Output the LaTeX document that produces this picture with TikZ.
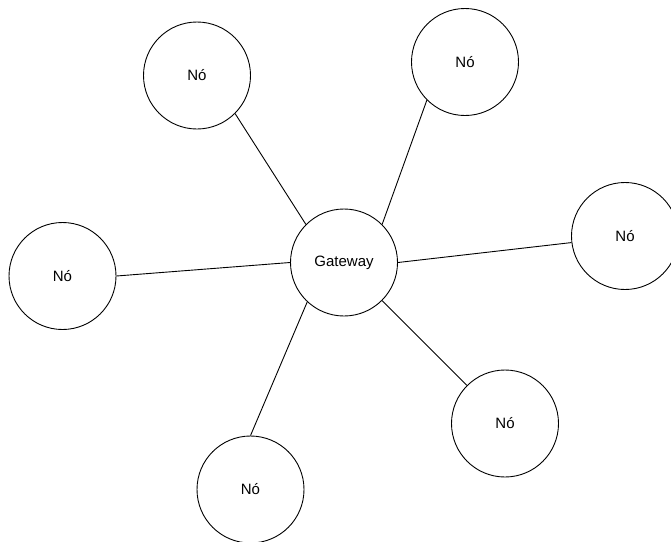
\documentclass[tikz,border=0pt]{standalone}
\usepackage{fontspec}
\setmainfont{Liberation Sans}
\begin{document}
\begin{tikzpicture}[x=1pt,y=-1pt,
  nodecirc/.style={draw,circle,minimum size=107pt,inner sep=0pt,line width=0.9pt,
    font=\fontsize{15}{17}\selectfont},
  link/.style={line width=0.9pt}]
\useasboundingbox (0,0) rectangle (671,541);
% gateway in the middle
\node[nodecirc] (gw) at (344,262.5) {Gateway};
% the six nodes round it
\node[nodecirc] (ntl) at (197,75.5) {Nó};
\node[nodecirc] (ntr) at (465,62) {Nó};
\node[nodecirc] (nr) at (625,236) {Nó};
\node[nodecirc] (nl) at (62.5,276) {Nó};
\node[nodecirc] (nbr) at (505,423.5) {Nó};
\node[nodecirc] (nb) at (250.5,489.5) {Nó};

\draw[link] (gw.135) -- (ntl.-45);
\draw[link] (gw.45) -- (ntr.-135);
\draw[link] (gw.east) -- (nr.187);
\draw[link] (gw.west) -- (nl.east);
\draw[link] (gw.-45) -- (nbr.135);
\draw[link] (gw.-133) -- (nb.north);
\end{tikzpicture}
\end{document}
